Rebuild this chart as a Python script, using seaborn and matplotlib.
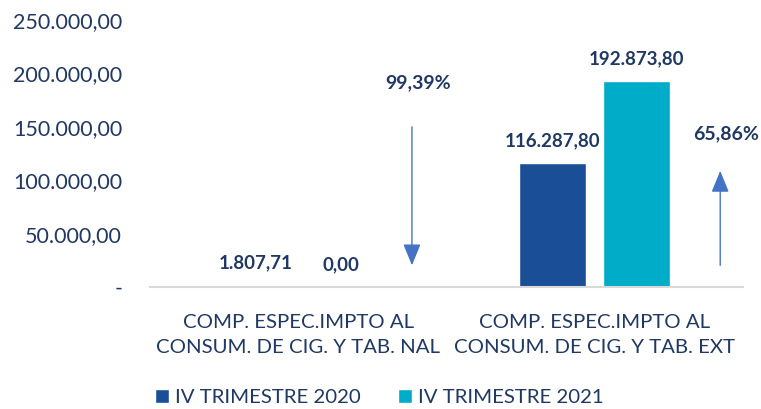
import numpy as np
import pandas as pd
import matplotlib
matplotlib.use("Agg")
import matplotlib.pyplot as plt
import seaborn as sns

# data
categories = ["COMP. ESPEC.IMPTO AL\nCONSUM. DE CIG. Y TAB. NAL",
              "COMP. ESPEC.IMPTO AL\nCONSUM. DE CIG. Y TAB. EXT"]
series = ["IV TRIMESTRE 2020", "IV TRIMESTRE 2021"]
vals_2020 = [1807.71, 116287.80]
vals_2021 = [0.00, 192873.80]
changes = ["99,39%", "65,86%"]
yticks = [0, 50000, 100000, 150000, 200000, 250000]

TXT = "#203864"
colors = ["#1A4F97", "#00ACC8"]
ARROW = "#4472C4"

df = pd.DataFrame({
    "cat": categories * 2,
    "serie": [series[0]] * 2 + [series[1]] * 2,
    "valor": vals_2020 + vals_2021,
})

def fmt(v):
    s = f"{v:,.2f}"
    return s.replace(",", "X").replace(".", ",").replace("X", ".")

sns.set_theme(style="white")
plt.rcParams["font.family"] = ["Lato", "DejaVu Sans"]

fig = plt.figure(figsize=(7.61, 4.09), dpi=100)
ax = fig.add_axes([0.197, 0.298, 0.779, 0.653])
sns.barplot(data=df, x="cat", y="valor", hue="serie", hue_order=series,
            palette=colors, width=0.572, gap=0.21, saturation=1,
            ax=ax, legend=True)

for cont in ax.containers:
    for bar in cont:
        h = bar.get_height()
        ax.annotate(fmt(h), (bar.get_x() + bar.get_width() / 2, h),
                    xytext=(0, 10), textcoords="offset points",
                    ha="center", va="bottom", fontsize=13.5,
                    fontweight="bold", color=TXT)

# arrows showing variation
arrow_x = [0.384, 1.424]
arrow_span = [(152600, 17800), (17800, 111400)]
label_y = [191000, 144000]
for i in range(2):
    y0, y1 = arrow_span[i]
    ax.annotate("", xy=(arrow_x[i], y1), xytext=(arrow_x[i], y0),
                arrowprops=dict(arrowstyle="-|>,head_width=0.45,head_length=1.1",
                                color=ARROW, lw=1.0))
    ax.text(arrow_x[i] + 0.02, label_y[i], changes[i], ha="center", va="center",
            fontsize=14, fontweight="bold", color=TXT)

ax.set_ylim(0, 250000)
ax.set_xlim(-0.5, 1.5)
ax.set_yticks(yticks)
ax.set_yticklabels(["-" if t == 0 else fmt(t) for t in yticks])
ax.tick_params(axis="x", length=0, labelsize=14.7, colors=TXT, pad=19)
ax.tick_params(axis="y", length=0, labelsize=15.5, colors=TXT, pad=20)
ax.set_xlabel("")
ax.set_ylabel("")
for s in ["top", "right", "left"]:
    ax.spines[s].set_visible(False)
ax.spines["bottom"].set_color("#D9D9D9")
ax.spines["bottom"].set_linewidth(1.5)
for lbl in ax.get_xticklabels():
    lbl.set_linespacing(1.62)

ax.legend(loc="upper left", bbox_to_anchor=(-0.005, -0.352), ncol=2, frameon=False,
          fontsize=14.7, handlelength=0.68, handleheight=0.68, handletextpad=0.3,
          columnspacing=1.8, labelcolor=TXT, borderaxespad=0)

fig.savefig("out.png", dpi=100)
